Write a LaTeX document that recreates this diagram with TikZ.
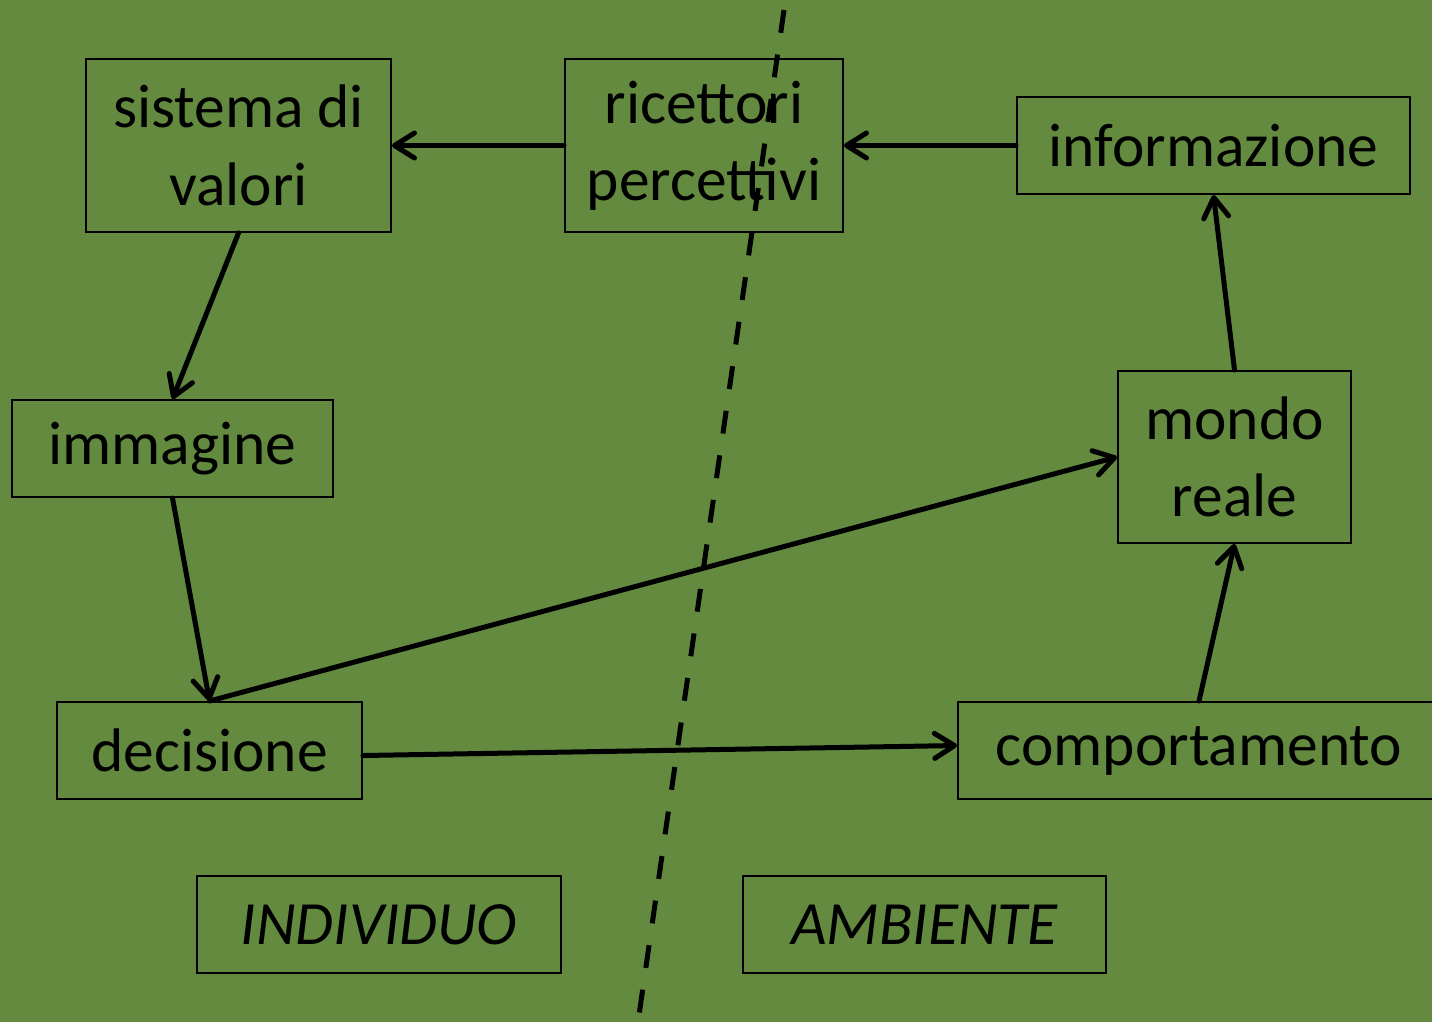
\documentclass[tikz,border=0pt]{standalone}
\usepackage{fontspec}
\setmainfont{Carlito}
\usetikzlibrary{arrows.meta,calc}
\definecolor{bggreen}{RGB}{99,138,62}
\tikzset{
  box/.style={draw=black, line width=0.04cm, inner sep=0pt, align=center,
    font=\fontsize{35}{44}\selectfont, text=black},
  conn/.style={line width=0.1cm, line cap=round, line join=round,
    -{Straight Barb[length=0.4cm,width=0.5cm,line cap=round,line join=round]}},
  divider/.style={line width=0.1cm, dash pattern=on 0.46cm off 0.44cm}
}
\begin{document}
\begin{tikzpicture}[x=0.02cm,y=-0.02cm]
\fill[bggreen] (0,0) rectangle (1432,1022);
\useasboundingbox (0,0) rectangle (1432,1022);
\node[box, minimum width=6.1cm, minimum height=3.46cm] (sys) at (238.5,145.5) {sistema di\\valori};
\node[box, minimum width=5.56cm, minimum height=3.46cm] (ric) at (704,145.5) {ricettori\\percettivi};
\node[box, minimum width=7.86cm, minimum height=1.94cm] (inf) at (1213.5,145.5) {informazione};
\node[box, minimum width=6.42cm, minimum height=1.94cm] (img) at (172.5,448.5) {immagine};
\node[box, minimum width=4.66cm, minimum height=3.44cm] (mon) at (1234.5,457) {mondo\\reale};
\node[box, minimum width=6.1cm, minimum height=1.94cm] (dec) at (209.5,750.5) {decisione};
\node[box, minimum width=9.64cm, minimum height=1.94cm] (com) at (1199,750.5) {comportamento};
\node[box, minimum width=7.28cm, minimum height=1.94cm, font=\fontsize{35}{44}\selectfont\itshape] (ind) at (379,924.5) {INDIVIDUO};
\node[box, minimum width=7.26cm, minimum height=1.94cm, font=\fontsize{35}{44}\selectfont\itshape] (amb) at (924.5,924.5) {AMBIENTE};
\coordinate (dtop) at (784,10);
\coordinate (dbot) at (638,1022);
\draw[conn] (ric.west) -- (sys.east);
\draw[conn] (inf.west) -- (ric.east);
\draw[conn] (sys.south) -- (img.north);
\draw[conn] (img.south) -- (dec.north);
\draw[conn] (dec.north) -- (mon.west);
\draw[conn] ([yshift=-0.1cm]dec.east) -- ([yshift=0.1cm]com.west);
\draw[conn] (com.north) -- (mon.south);
\draw[conn] (mon.north) -- (inf.south);
\draw[divider] (dtop) -- (dbot);
\end{tikzpicture}
\end{document}
